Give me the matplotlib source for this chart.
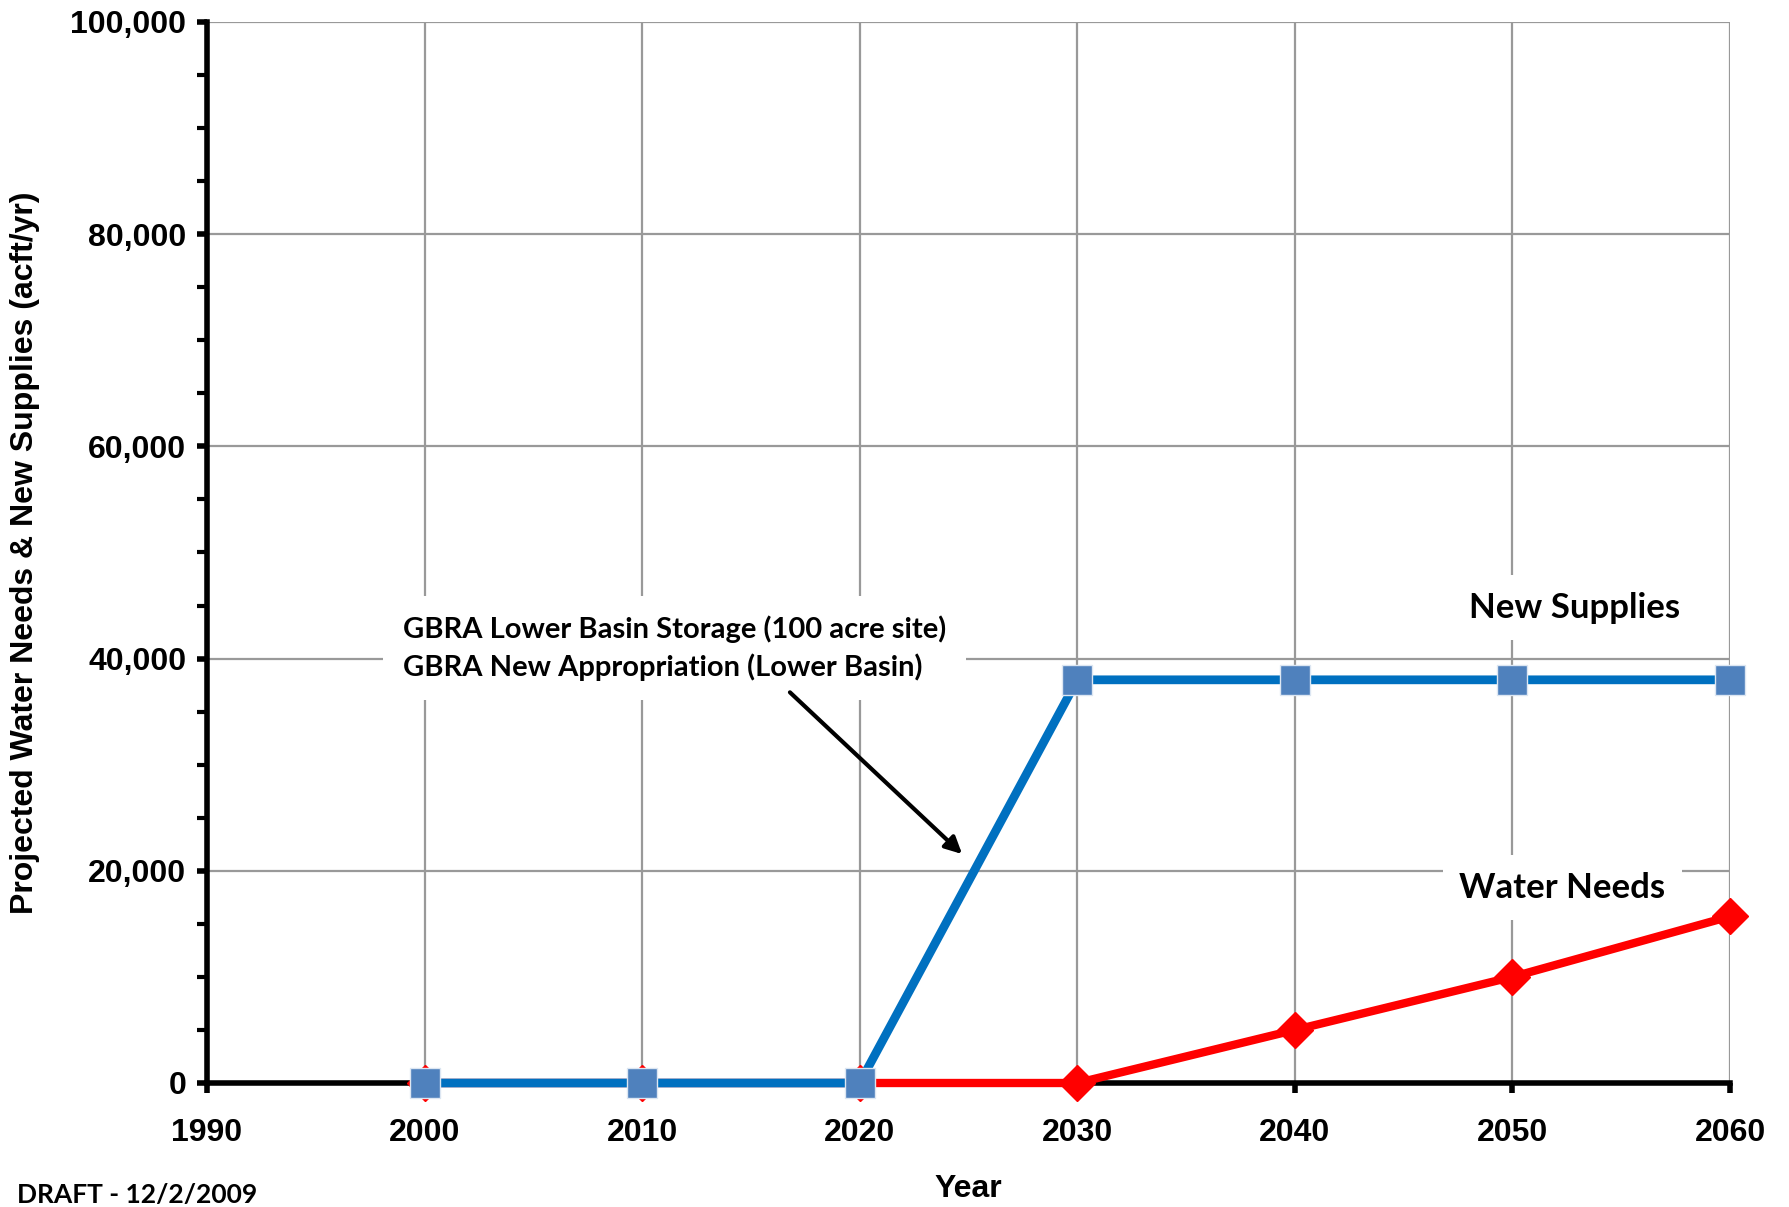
import numpy as np
import matplotlib.pyplot as plt
from matplotlib.ticker import MultipleLocator, FuncFormatter

# data
years = [2000, 2010, 2020, 2030, 2040, 2050, 2060]
water_needs = [0, 0, 0, 0, 5000, 10000, 15700]
new_supplies = [0, 0, 0, 38000, 38000, 38000, 38000]

plt.rcParams['font.family'] = ['Liberation Sans', 'DejaVu Sans']
label_font = ['Lato', 'DejaVu Sans']

fig = plt.figure(figsize=(17.9, 12.07), dpi=100)
ax = fig.add_axes([207 / 1790, 1 - 1083 / 1207, (1730 - 207) / 1790, (1083 - 22) / 1207])

ax.plot(years, water_needs, color='#FF0000', lw=6, marker='D', ms=18,
        markerfacecolor='#FF0000', markeredgecolor='#FF0000', zorder=3, clip_on=False)
ax.plot(years, new_supplies, color='#0070C0', lw=6.3, marker='s', ms=21,
        markerfacecolor='#4F81BD', markeredgecolor='#DCE6F2', markeredgewidth=1,
        zorder=4, clip_on=False)

ax.set_xlim(1990, 2060)
ax.set_ylim(0, 100000)
ax.xaxis.set_major_locator(MultipleLocator(10))
ax.yaxis.set_major_locator(MultipleLocator(20000))
ax.yaxis.set_minor_locator(MultipleLocator(5000))
ax.yaxis.set_major_formatter(FuncFormatter(lambda v, p: f'{int(v):,}'))

ax.grid(True, which='major', color='#999999', lw=1.6, zorder=0)
ax.set_axisbelow(True)
for s in ['top', 'right']:
    ax.spines[s].set_visible(False)
for s in ['left', 'bottom']:
    ax.spines[s].set_linewidth(4)
    ax.spines[s].set_zorder(2.5)

ax.tick_params(axis='both', which='major', direction='out', length=7, width=4,
               labelsize=23, pad=8)
ax.tick_params(axis='y', which='minor', direction='out', length=7, width=3)
for lab in ax.get_xticklabels() + ax.get_yticklabels():
    lab.set_fontweight('bold')
ax.tick_params(axis='x', pad=18)

ax.set_xlabel('Year', fontsize=23, fontweight='bold', labelpad=19)
ax.set_ylabel('Projected Water Needs & New Supplies (acft/yr)', fontsize=23,
              fontweight='bold', labelpad=22)

box = dict(facecolor='white', edgecolor='none', pad=12)
ax.text(2052.85, 44800, 'New Supplies', fontsize=25, fontweight='bold',
        family=label_font, ha='center', va='center', bbox=box, zorder=5)
ax.text(2052.3, 18400, 'Water Needs', fontsize=25, fontweight='bold',
        family=label_font, ha='center', va='center', bbox=box, zorder=5)
ax.text(1999.0, 41000,
        'GBRA Lower Basin Storage (100 acre site)\nGBRA New Appropriation (Lower Basin)',
        fontsize=21, fontweight='bold', family=label_font, ha='left', va='center',
        linespacing=1.45, bbox=dict(facecolor='white', edgecolor='none', pad=14), zorder=5)
ax.annotate('', xy=(2024.8, 21400), xytext=(2016.7, 37000),
            arrowprops=dict(arrowstyle='-|>', color='black', lw=3, mutation_scale=25),
            zorder=6)

fig.text(17 / 1790, 1 - 1195 / 1207, 'DRAFT - 12/2/2009', fontsize=19,
         fontweight='bold', family=label_font, ha='left', va='center')

fig.savefig('out.png', dpi=100)
